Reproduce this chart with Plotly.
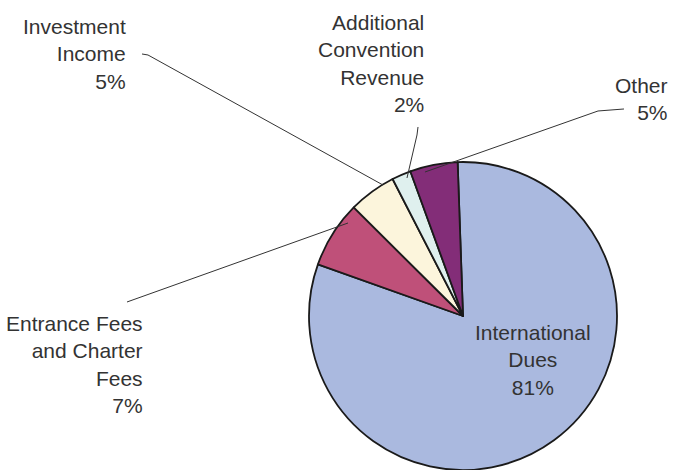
import plotly.graph_objects as go

# ---- data ----
categories = ["International Dues", "Entrance Fees and Charter Fees", "Investment Income",
              "Additional Convention Revenue", "Other"]
values = [81, 7, 5, 2, 5]
label_lines = [["International", "Dues"],
               ["Entrance Fees", "and Charter", "Fees"],
               ["Investment", "Income"],
               ["Additional", "Convention", "Revenue"],
               ["Other"]]
colors = ["#AAB9DF", "#BF5079", "#FCF5DC", "#DFF0EE", "#832D78"]

W, H = 673, 470

def px(x):
    return x / W

def py(y):
    return 1 - y / H

# pie box in pixels (center x 463, center y 316, radius 154)
cx, cy, r = 463, 316, 154

fig = go.Figure(go.Pie(
    labels=categories,
    values=values,
    sort=False,
    direction="clockwise",
    rotation=-2,
    marker=dict(colors=colors, line=dict(color="#1a1a1a", width=1.8)),
    textinfo="none",
    hoverinfo="label+percent",
    domain=dict(x=[px(cx - r), px(cx + r)], y=[py(cy + r), py(cy - r)]),
    showlegend=False,
))

total = sum(values)
pct = [f"{round(v / total * 100)}%" for v in values]

# label placement (pixels): x anchor, y middle, xanchor, align
label_pos = {
    "International Dues": (533, 360, "center", "center"),
    "Entrance Fees and Charter Fees": (145, 364, "right", "right"),
    "Investment Income": (128, 54, "right", "right"),
    "Additional Convention Revenue": (426, 64, "right", "right"),
    "Other": (670, 99, "right", "right"),
}

for cat, lines, p in zip(categories, label_lines, pct):
    x, y, xa, al = label_pos[cat]
    fig.add_annotation(
        x=px(x), y=py(y), xref="paper", yref="paper",
        text="<br>".join(lines + [p]),
        showarrow=False, xanchor=xa, yanchor="middle", align=al,
        font=dict(family="Arial, Liberation Sans, sans-serif", size=21, color="#333333"),
    )

# leader lines (pixel paths)
leaders = [
    [(127, 302), (348, 223)],
    [(142, 54), (148, 55), (383, 185)],
    [(418, 127), (417, 135), (407, 178)],
    [(624, 109), (598, 111), (425, 172)],
]
for pts in leaders:
    path = "M " + " L ".join(f"{px(x):.5f},{py(y):.5f}" for x, y in pts)
    fig.add_shape(type="path", path=path, xref="paper", yref="paper",
                  line=dict(color="#333333", width=1))

fig.update_layout(
    width=W, height=H,
    margin=dict(l=0, r=0, t=0, b=0),
    paper_bgcolor="white",
    plot_bgcolor="white",
)

fig.write_html(
    "out.html",
    config={"displayModeBar": False},
    post_script="document.body.style.margin='0';document.body.style.overflow='hidden';",
)
